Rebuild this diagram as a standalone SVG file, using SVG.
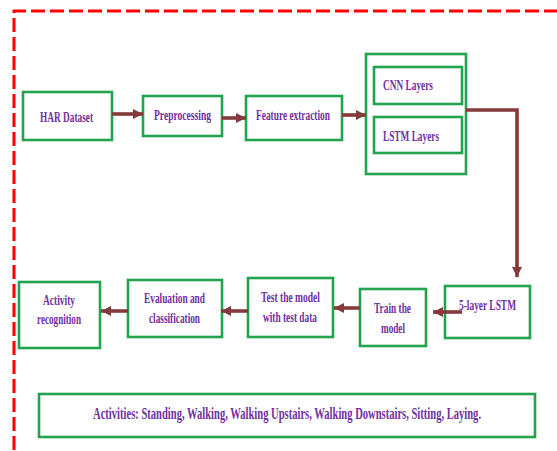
<svg xmlns="http://www.w3.org/2000/svg" width="557" height="451" viewBox="0 0 557 451">
  <style>
    .box { fill: #ffffff; stroke: #22a34e; stroke-width: 2.6; }
    .lbl { font-family: "Liberation Serif", "Times New Roman", serif; font-weight: bold; font-size: 15.5px; fill: #7030a0; }
    .big { font-size: 16.5px; }
    .conn { fill: none; stroke: #843a3a; stroke-width: 3.6; marker-end: url(#ah); }
  </style>
  <defs>
    <marker id="ah" viewBox="0 0 10 10" refX="10" refY="5" markerWidth="10" markerHeight="11" markerUnits="userSpaceOnUse" orient="auto">
      <path d="M0,0 L10,5 L0,10 z" fill="#843a3a"/>
    </marker>
  </defs>
  <rect width="557" height="451" fill="#ffffff"/>
  <path d="M14,450 V11 H557" fill="none" stroke="#ff0000" stroke-width="3" stroke-dasharray="14,5"/>

  <g id="har-dataset">
    <rect class="box" x="23" y="92" width="89" height="48"/>
    <text class="lbl" x="40" y="122" textLength="53" lengthAdjust="spacingAndGlyphs">HAR Dataset</text>
  </g>
  <g id="preprocessing">
    <rect class="box" x="143" y="96" width="79" height="40"/>
    <text class="lbl" x="154" y="120" textLength="57" lengthAdjust="spacingAndGlyphs">Preprocessing</text>
  </g>
  <g id="feature-extraction">
    <rect class="box" x="246" y="96" width="96" height="44"/>
    <text class="lbl" x="256" y="120" textLength="74" lengthAdjust="spacingAndGlyphs">Feature extraction</text>
  </g>
  <g id="cnn-lstm">
    <rect class="box" x="366" y="54" width="100" height="120"/>
    <g id="cnn-layers">
      <rect class="box" x="374" y="67" width="88" height="37"/>
      <text class="lbl" x="383" y="90" textLength="50" lengthAdjust="spacingAndGlyphs">CNN Layers</text>
    </g>
    <g id="lstm-layers">
      <rect class="box" x="374" y="117" width="88" height="36"/>
      <text class="lbl" x="383" y="141" textLength="56" lengthAdjust="spacingAndGlyphs">LSTM Layers</text>
    </g>
  </g>
  <g id="five-layer-lstm">
    <rect class="box" x="445" y="286" width="85" height="52"/>
    <text class="lbl" x="459" y="310" textLength="57" lengthAdjust="spacingAndGlyphs">5-layer LSTM</text>
  </g>
  <g id="train-model">
    <rect class="box" x="360" y="289" width="66" height="57"/>
    <text class="lbl" x="374" y="313" textLength="37" lengthAdjust="spacingAndGlyphs">Train the</text>
    <text class="lbl" x="381" y="333" textLength="24" lengthAdjust="spacingAndGlyphs">model</text>
  </g>
  <g id="test-model">
    <rect class="box" x="248" y="278" width="85" height="59"/>
    <text class="lbl" x="261" y="302" textLength="59" lengthAdjust="spacingAndGlyphs">Test the model</text>
    <text class="lbl" x="263" y="322" textLength="54" lengthAdjust="spacingAndGlyphs">with test data</text>
  </g>
  <g id="evaluation">
    <rect class="box" x="128" y="280" width="94" height="57"/>
    <text class="lbl" x="144" y="303" textLength="61" lengthAdjust="spacingAndGlyphs">Evaluation and</text>
    <text class="lbl" x="149" y="323" textLength="51" lengthAdjust="spacingAndGlyphs">classification</text>
  </g>
  <g id="activity-recognition">
    <rect class="box" x="19" y="282" width="81" height="66"/>
    <text class="lbl" x="43" y="305" textLength="32" lengthAdjust="spacingAndGlyphs">Activity</text>
    <text class="lbl" x="37" y="324" textLength="44" lengthAdjust="spacingAndGlyphs">recognition</text>
  </g>
  <g id="activities">
    <rect class="box" x="39" y="394" width="496" height="43"/>
    <text class="lbl big" transform="translate(93,419) scale(0.65,1)" x="0" y="0" textLength="597" lengthAdjust="spacingAndGlyphs">Activities: Standing, Walking, Walking Upstairs, Walking Downstairs, Sitting, Laying.</text>
  </g>

  <g id="connectors">
    <path class="conn" d="M112,114 H143"/>
    <path class="conn" d="M222,118 H246"/>
    <path class="conn" d="M342,115 H366"/>
    <path class="conn" d="M466,110 H517 V277"/>
    <path class="conn" d="M462,312 H433"/>
    <path class="conn" d="M360,308 H334"/>
    <path class="conn" d="M248,311 H221"/>
    <path class="conn" d="M128,311 H101"/>
  </g>
</svg>
